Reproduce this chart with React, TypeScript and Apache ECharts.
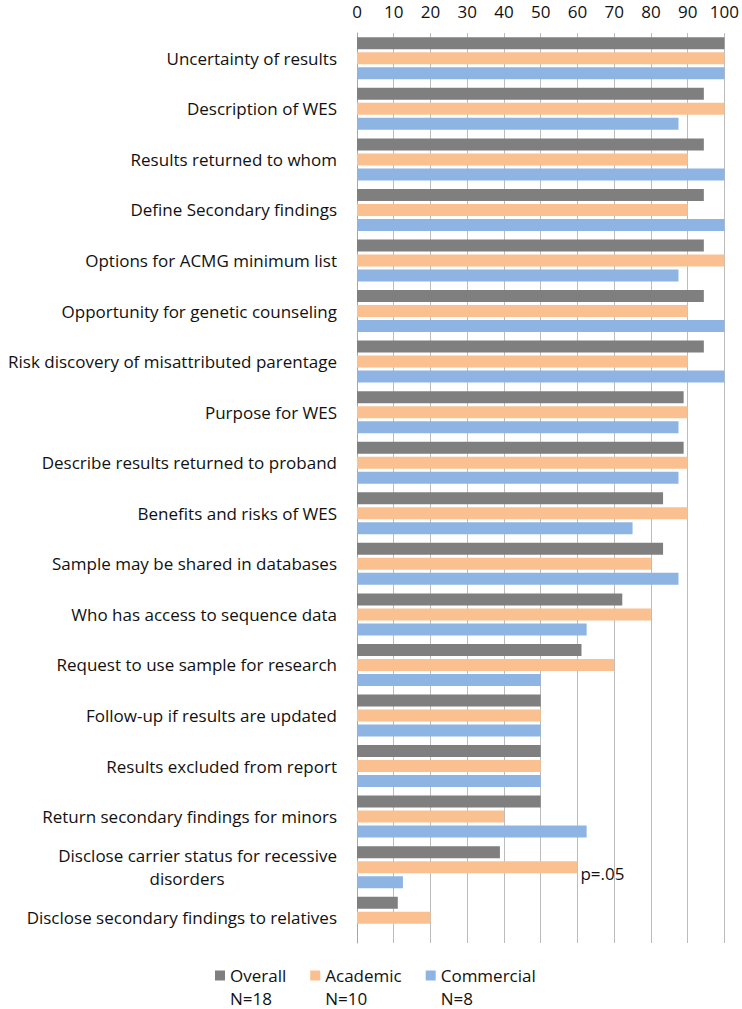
import React, { useEffect, useRef } from "react";
import * as echarts from "echarts";

const categories = [
  "Uncertainty of results",
  "Description of WES",
  "Results returned to whom",
  "Define Secondary findings",
  "Options for ACMG minimum list",
  "Opportunity for genetic counseling",
  "Risk discovery of misattributed parentage",
  "Purpose for WES",
  "Describe results returned to proband",
  "Benefits and risks of WES",
  "Sample may be shared in databases",
  "Who has access to sequence data",
  "Request to use sample for research",
  "Follow-up if results are updated",
  "Results excluded from report",
  "Return secondary findings for minors",
  "Disclose carrier status for recessive disorders",
  "Disclose secondary findings to relatives",
];

const overall = [100, 94.4, 94.4, 94.4, 94.4, 94.4, 94.4, 88.9, 88.9, 83.3, 83.3, 72.2, 61.1, 50, 50, 50, 38.9, 11.1];
const academic = [100, 100, 90, 90, 100, 90, 90, 90, 90, 90, 80, 80, 70, 50, 50, 40, 60, 20];
const commercial = [100, 87.5, 100, 100, 87.5, 100, 100, 87.5, 87.5, 75, 87.5, 62.5, 50, 50, 50, 62.5, 12.5, 0];

const seriesNames = ["Overall", "Academic", "Commercial"];
const seriesN = ["N=18", "N=10", "N=8"];
const colors = ["#7f7f7f", "#fac090", "#8db4e2"];
const xTicks = { min: 0, max: 100, interval: 10 };
const pNoteIndex = 16;
const pNote = "p=.05";

const FONT = "'Open Sans', sans-serif";
const TEXT = "#111111";
const FS = 17;

export default function App() {
  const ref = useRef<HTMLDivElement>(null);
  useEffect(() => {
    document.body.style.margin = "0";
    if (!ref.current) return;
    const chart = echarts.init(ref.current, undefined, { renderer: "svg" });
    const values = [overall, academic, commercial];
    chart.setOption({
      animation: false,
      textStyle: { fontFamily: FONT },
      grid: { left: 357, right: 16, top: 33, bottom: 66, containLabel: false },
      xAxis: {
        type: "value",
        position: "top",
        min: xTicks.min,
        max: xTicks.max,
        interval: xTicks.interval,
        axisLine: { show: false },
        axisTick: { show: false },
        axisLabel: { fontSize: FS, color: TEXT, margin: 13, fontFamily: FONT },
        splitLine: { show: true, lineStyle: { color: "#bcbcbc", width: 1 } },
      },
      yAxis: {
        type: "category",
        inverse: true,
        data: categories,
        axisLine: { show: true, lineStyle: { color: "#a6a6a6", width: 1 } },
        axisTick: { show: false },
        axisLabel: {
          fontSize: FS,
          color: TEXT,
          margin: 20,
          fontFamily: FONT,
          formatter: (v: string) => {
            if (v === "Disclose carrier status for recessive disorders") {
              return "{a|Disclose carrier status for recessive}\n{b|disorders}";
            }
            return v;
          },
          rich: {
            a: { fontSize: FS, color: TEXT, fontFamily: FONT, lineHeight: 23 },
            b: { fontSize: FS, color: TEXT, fontFamily: FONT, lineHeight: 23, width: 300, align: "center" },
          },
        },
      },
      legend: {
        show: true,
        left: 215,
        top: 941,
        padding: 0,
        itemGap: 24,
        itemWidth: 10,
        itemHeight: 10,
        icon: "rect",
        data: seriesNames,
        formatter: (name: string) => " \n" + name + "\n" + seriesN[seriesNames.indexOf(name)],
        textStyle: { fontSize: FS, color: TEXT, lineHeight: 23, fontFamily: FONT },
      },
      series: seriesNames.map((name, i) => ({
        name,
        type: "bar",
        barWidth: 12,
        barGap: "25%",
        itemStyle: { color: colors[i] },
        data: values[i].map((v, j) => {
          if (i === 1 && j === pNoteIndex) {
            return {
              value: v,
              label: {
                show: true,
                position: "right",
                distance: 3,
                offset: [0, 6],
                formatter: pNote,
                fontSize: FS,
                color: TEXT,
                fontFamily: FONT,
              },
            };
          }
          return v;
        }),
      })),
    });
    return () => chart.dispose();
  }, []);
  return <div ref={ref} style={{ width: 742, height: 1009 }} />;
}
